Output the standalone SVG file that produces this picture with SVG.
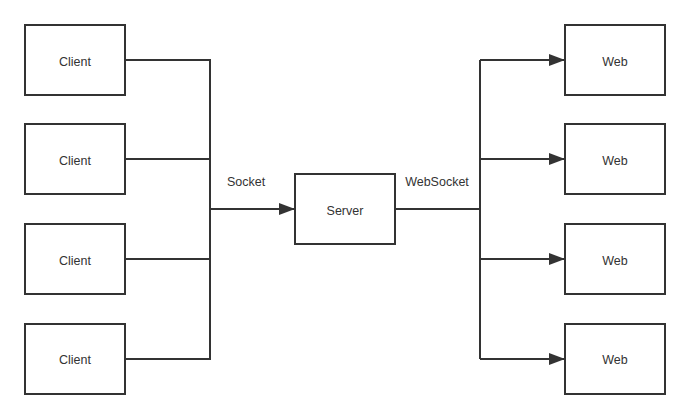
<svg xmlns="http://www.w3.org/2000/svg" width="690" height="418" viewBox="0 0 690 418">
<style>
.box{fill:#fff;stroke:#333;stroke-width:2}
.lbl{font-family:"Liberation Sans",Arial,sans-serif;font-size:12.5px;fill:#333;text-anchor:middle;dominant-baseline:central}
.ln{fill:none;stroke:#333;stroke-width:2}
</style>
<defs>
<marker id="arr" markerWidth="16" markerHeight="12" refX="16" refY="6" orient="auto" markerUnits="userSpaceOnUse">
<path d="M0,0 L16,6 L0,12 Z" fill="#333"/>
</marker>
</defs>
<rect width="690" height="418" fill="#fff"/>
<g id="connectors">
<polyline class="ln" points="125,60 210,60 210,359 125,359"/>
<line class="ln" x1="125" y1="159" x2="210" y2="159"/>
<line class="ln" x1="125" y1="259" x2="210" y2="259"/>
<line class="ln" x1="210" y1="209" x2="295" y2="209" marker-end="url(#arr)"/>
<line class="ln" x1="395" y1="209" x2="480" y2="209"/>
<line class="ln" x1="480" y1="60" x2="480" y2="359"/>
<line class="ln" x1="480" y1="60" x2="565" y2="60" marker-end="url(#arr)"/>
<line class="ln" x1="480" y1="159" x2="565" y2="159" marker-end="url(#arr)"/>
<line class="ln" x1="480" y1="259" x2="565" y2="259" marker-end="url(#arr)"/>
<line class="ln" x1="480" y1="359" x2="565" y2="359" marker-end="url(#arr)"/>
<text class="lbl" x="246" y="182">Socket</text>
<text class="lbl" x="437" y="182">WebSocket</text>
</g>
<g id="client1"><rect class="box" x="25" y="25" width="100" height="70"/><text class="lbl" x="75" y="62">Client</text></g>
<g id="client2"><rect class="box" x="25" y="124" width="100" height="70"/><text class="lbl" x="75" y="161">Client</text></g>
<g id="client3"><rect class="box" x="25" y="224" width="100" height="70"/><text class="lbl" x="75" y="261">Client</text></g>
<g id="client4"><rect class="box" x="25" y="324" width="100" height="70"/><text class="lbl" x="75" y="360">Client</text></g>
<g id="server"><rect class="box" x="295" y="174" width="100" height="70"/><text class="lbl" x="345" y="211">Server</text></g>
<g id="web1"><rect class="box" x="565" y="25" width="100" height="70"/><text class="lbl" x="615" y="62">Web</text></g>
<g id="web2"><rect class="box" x="565" y="124" width="100" height="70"/><text class="lbl" x="615" y="161">Web</text></g>
<g id="web3"><rect class="box" x="565" y="224" width="100" height="70"/><text class="lbl" x="615" y="261">Web</text></g>
<g id="web4"><rect class="box" x="565" y="324" width="100" height="70"/><text class="lbl" x="615" y="360">Web</text></g>
</svg>
